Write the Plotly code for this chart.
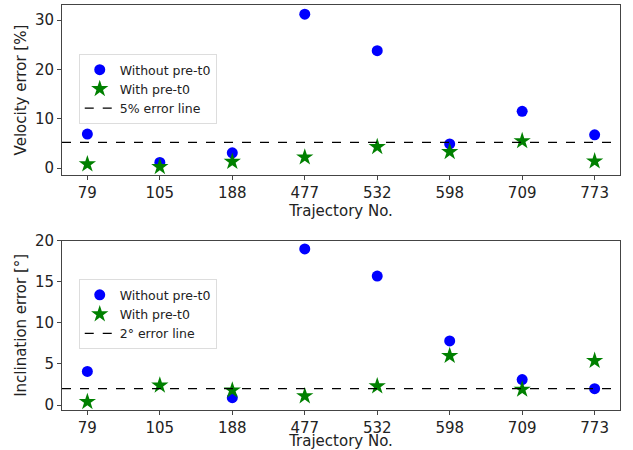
import plotly.graph_objects as go

trajectories = ["79", "105", "188", "477", "532", "598", "709", "773"]
vel_without = [6.9, 1.15, 3.1, 31.2, 23.8, 4.9, 11.5, 6.75]
vel_with = [0.8, 0.25, 1.3, 2.2, 4.3, 3.3, 5.5, 1.4]
vel_threshold = 5.2
inc_without = [4.1, None, 0.9, 19.0, 15.7, 7.8, 3.1, 2.0]
inc_with = [0.4, 2.4, 1.8, 1.1, 2.3, 6.0, 1.9, 5.4]
inc_threshold = 2.0

idx = list(range(len(trajectories)))
xr = [-0.35, len(trajectories) - 1 + 0.35]

FONT = "DejaVu Sans"
fig = go.Figure()

def add_panel(xa, ya, leg, ywo, ywi, thr, thr_label):
    fig.add_trace(go.Scatter(x=idx, y=ywo, mode="markers", name="Without pre-t0",
                             marker=dict(color="#0000ff", size=11, symbol="circle"),
                             xaxis=xa, yaxis=ya, legend=leg))
    fig.add_trace(go.Scatter(x=idx, y=ywi, mode="markers", name="With pre-t0",
                             marker=dict(color="#008000", size=13, symbol="star", line=dict(width=0)),
                             xaxis=xa, yaxis=ya, legend=leg))
    fig.add_trace(go.Scatter(x=xr, y=[thr, thr], mode="lines", name=thr_label,
                             line=dict(color="black", width=1.3, dash="dash"),
                             xaxis=xa, yaxis=ya, legend=leg))

add_panel("x", "y", "legend", vel_without, vel_with, vel_threshold, "5% error line")
add_panel("x2", "y2", "legend2", inc_without, inc_with, inc_threshold, "2° error line")

axis_common = dict(showline=True, mirror=True, linecolor="#444", linewidth=1,
                   ticks="outside", ticklen=4, tickcolor="#444", showgrid=False,
                   zeroline=False, automargin=False,
                   tickfont=dict(family=FONT, size=15, color="#222"))

xcommon = dict(axis_common, range=xr, tickmode="array", tickvals=idx, ticktext=trajectories,
               title=dict(text="Trajectory No.", font=dict(family=FONT, size=15, color="#222"), standoff=0))

legend_common = dict(font=dict(family=FONT, size=12.5, color="#222"), bgcolor="rgba(255,255,255,0.8)",
                     bordercolor="#ddd", borderwidth=1, xanchor="left", yanchor="top",
                     tracegroupgap=0, itemwidth=30)

fig.update_layout(
    width=633, height=450,
    margin=dict(l=62, r=13, t=5, b=40, autoexpand=False),
    paper_bgcolor="white", plot_bgcolor="white",
    showlegend=True,
    xaxis=dict(xcommon, domain=[0, 1], anchor="y"),
    yaxis=dict(axis_common, domain=[0.58, 1], range=[-1.42, 33.06], tickvals=[0, 10, 20, 30],
               anchor="x",
               title=dict(text="Velocity error [%]", font=dict(family=FONT, size=15, color="#222"), standoff=4)),
    xaxis2=dict(xcommon, domain=[0, 1], anchor="y2"),
    yaxis2=dict(axis_common, domain=[0, 0.418], range=[-0.6, 20.0], tickvals=[0, 5, 10, 15, 20],
                anchor="x2",
                title=dict(text="Inclination error [°]", font=dict(family=FONT, size=15, color="#222"), standoff=4)),
    legend=dict(legend_common, x=0.03, y=0.879),
    legend2=dict(legend_common, x=0.03, y=0.323),
)

fig.write_html("out.html", config={"displayModeBar": False},
               post_script="document.body.style.margin='0';document.body.style.overflow='hidden';")
